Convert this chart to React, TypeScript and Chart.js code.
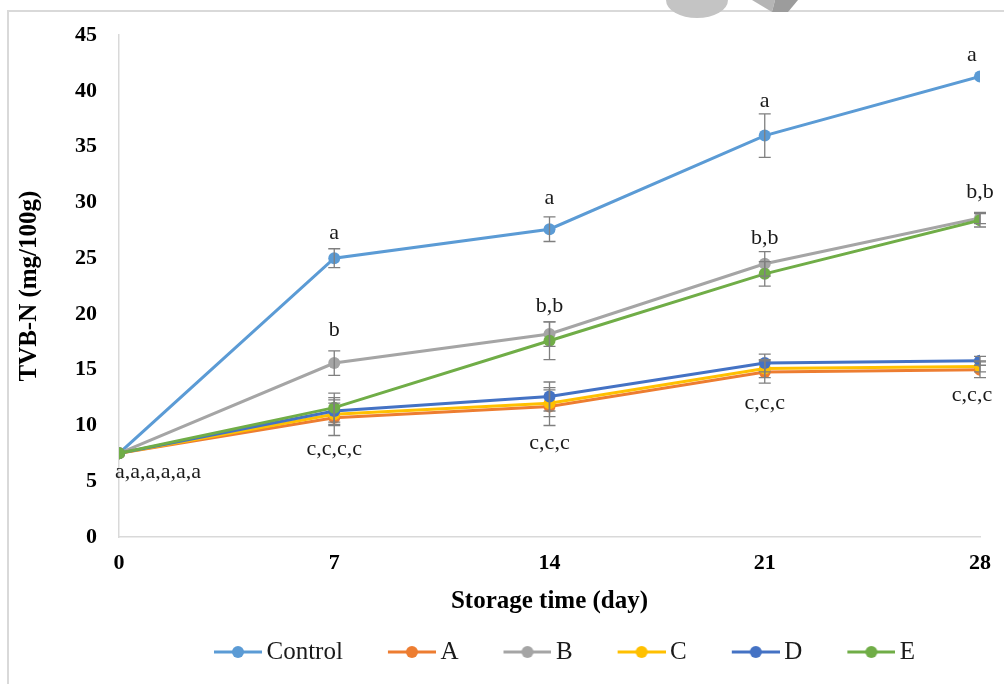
import React, { useEffect, useRef } from "react";
import { Chart, registerables } from "chart.js";

Chart.register(...registerables);

// ---------- data ----------
const DAYS = [0, 7, 14, 21, 28];
const SERIES_NAMES = ["Control", "A", "B", "C", "D", "E"];
const CONTROL = [7.5, 25.0, 27.6, 36.0, 41.3];
const TREAT_A = [7.5, 10.7, 11.7, 14.8, 15.0];
const TREAT_B = [7.5, 15.6, 18.2, 24.5, 28.6];
const TREAT_C = [7.5, 11.0, 12.0, 15.1, 15.3];
const TREAT_D = [7.5, 11.3, 12.6, 15.6, 15.8];
const TREAT_E = [7.5, 11.6, 17.6, 23.6, 28.4];

const ERR_CONTROL = [0, 0.85, 1.1, 1.95, 0];
const ERR_A = [0, 1.6, 1.7, 1.0, 0.7];
const ERR_B = [0, 1.1, 1.1, 1.1, 0.5];
const ERR_C = [0, 1.0, 1.2, 0.8, 0.5];
const ERR_D = [0, 1.2, 1.3, 0.8, 0.4];
const ERR_E = [0, 1.3, 1.7, 1.1, 0.6];

const X_TICKS = [0, 7, 14, 21, 28];
const Y_TICKS = [0, 5, 10, 15, 20, 25, 30, 35, 40, 45];

// significance letters: series index, day index, text
const LETTER_SERIES = [5, 0, 0, 0, 0, 2, 2, 2, 2, 1, 1, 1, 1];
const LETTER_DAY = [0, 1, 2, 3, 4, 1, 2, 3, 4, 1, 2, 3, 4];
const LETTER_TEXT = [
  "a,a,a,a,a,a",
  "a", "a", "a", "a",
  "b", "b,b", "b,b", "b,b",
  "c,c,c,c", "c,c,c", "c,c,c", "c,c,c",
];

// ---------- styles ----------
const COLORS = ["#5b9bd5", "#ed7d31", "#a5a5a5", "#ffc000", "#4472c4", "#70ad47"];
const DRAW_ORDER = [5, 4, 3, 2, 1, 0];
const LETTER_OFFSETS: [number, number][] = [
  [39, 19],
  [0, -25], [0, -31], [0, -34], [-8, -21],
  [0, -33], [0, -28], [0, -26], [0, -26],
  [0, 32], [0, 37], [0, 31], [-8, 25],
];
const FONT = "'Liberation Serif', 'Times New Roman', serif";

const SERIES_VALUES = [CONTROL, TREAT_A, TREAT_B, TREAT_C, TREAT_D, TREAT_E];
const SERIES_ERRORS = [ERR_CONTROL, ERR_A, ERR_B, ERR_C, ERR_D, ERR_E];

function makeLegendImage(color: string) {
  const c = document.createElement("canvas");
  c.width = 56;
  c.height = 14;
  const g = c.getContext("2d")!;
  g.strokeStyle = color;
  g.lineWidth = 3;
  g.beginPath();
  g.moveTo(8, 7);
  g.lineTo(56, 7);
  g.stroke();
  g.fillStyle = color;
  g.beginPath();
  g.arc(32, 7, 6, 0, Math.PI * 2);
  g.fill();
  return c;
}

const framePlugin = {
  id: "frame",
  beforeDraw(chart: any) {
    const ctx = chart.ctx;
    ctx.save();
    ctx.fillStyle = "#ffffff";
    ctx.fillRect(0, 0, chart.width, chart.height);
    ctx.strokeStyle = "#d9d9d9";
    ctx.lineWidth = 2;
    ctx.beginPath();
    ctx.moveTo(8, chart.height);
    ctx.lineTo(8, 11);
    ctx.lineTo(chart.width, 11);
    ctx.stroke();
    ctx.restore();
  },
  afterDraw(chart: any) {
    const ctx = chart.ctx;
    ctx.save();
    ctx.fillStyle = "#c4c4c4";
    ctx.beginPath();
    ctx.ellipse(697, 0, 31, 18, 0, 0, Math.PI);
    ctx.fill();
    ctx.fillStyle = "#b5b5b5";
    ctx.beginPath();
    ctx.moveTo(752, 0);
    ctx.lineTo(775, 0);
    ctx.lineTo(772, 12);
    ctx.closePath();
    ctx.fill();
    ctx.fillStyle = "#9c9c9c";
    ctx.beginPath();
    ctx.moveTo(775, 0);
    ctx.lineTo(798, 0);
    ctx.lineTo(788, 12);
    ctx.lineTo(772, 12);
    ctx.closePath();
    ctx.fill();
    ctx.restore();
  },
};

const errorBarPlugin = {
  id: "errorBars",
  afterDatasetsDraw(chart: any) {
    const ctx = chart.ctx;
    const xs = chart.scales.x;
    const ys = chart.scales.y;
    ctx.save();
    ctx.strokeStyle = "#7f7f7f";
    ctx.lineWidth = 1.3;
    SERIES_VALUES.forEach((vals, si) => {
      const errs = SERIES_ERRORS[si];
      vals.forEach((v, j) => {
        const e = errs[j];
        if (!e) return;
        const x = xs.getPixelForValue(DAYS[j]);
        const yTop = ys.getPixelForValue(v + e);
        const yBot = ys.getPixelForValue(v - e);
        ctx.beginPath();
        ctx.moveTo(x, yTop);
        ctx.lineTo(x, yBot);
        ctx.moveTo(x - 6, yTop);
        ctx.lineTo(x + 6, yTop);
        ctx.moveTo(x - 6, yBot);
        ctx.lineTo(x + 6, yBot);
        ctx.stroke();
      });
    });
    ctx.restore();
  },
};

const letterPlugin = {
  id: "letters",
  afterDatasetsDraw(chart: any) {
    const ctx = chart.ctx;
    const xs = chart.scales.x;
    const ys = chart.scales.y;
    ctx.save();
    ctx.font = `22px ${FONT}`;
    ctx.fillStyle = "#1a1a1a";
    ctx.textAlign = "center";
    ctx.textBaseline = "middle";
    LETTER_TEXT.forEach((t, i) => {
      const s = LETTER_SERIES[i];
      const d = LETTER_DAY[i];
      const x = xs.getPixelForValue(DAYS[d]);
      const y = ys.getPixelForValue(SERIES_VALUES[s][d]);
      const [dx, dy] = LETTER_OFFSETS[i];
      ctx.fillText(t, x + dx, y + dy);
    });
    ctx.restore();
  },
};

const legendPlacePlugin = {
  id: "legendPlace",
  afterLayout(chart: any) {
    const lg = chart.legend;
    if (!lg || !lg.lineWidths) return;
    const pad = lg.options.labels.padding;
    const lw = lg.lineWidths[0];
    const start = (lg.left + pad + lg.right - lw) / 2;
    const dx = 214 - start;
    lg.left += dx;
    lg.right += dx;
    const newTop = 652 - pad - 12.5;
    lg.bottom += newTop - lg.top;
    lg.top = newTop;
  },
};

export default function App() {
  const ref = useRef<HTMLCanvasElement | null>(null);

  useEffect(() => {
    if (!ref.current) return;
    const legendImages = COLORS.map((c) => makeLegendImage(c));
    const datasets = SERIES_NAMES.map((name, i) => ({
      label: name,
      data: DAYS.map((d, j) => ({ x: d, y: SERIES_VALUES[i][j] })),
      borderColor: COLORS[i],
      backgroundColor: COLORS[i],
      pointBackgroundColor: COLORS[i],
      pointBorderColor: COLORS[i],
      pointRadius: 6,
      pointBorderWidth: 0,
      borderWidth: 3,
      tension: 0,
      order: DRAW_ORDER[i],
    }));

    const chart = new Chart(ref.current, {
      type: "line",
      data: { datasets },
      plugins: [framePlugin, errorBarPlugin, letterPlugin, legendPlacePlugin],
      options: {
        responsive: false,
        animation: false,
        layout: { padding: { left: 15, right: 24, top: 35, bottom: 0 } },
        plugins: {
          tooltip: { enabled: false },
          legend: {
            position: "bottom",
            maxHeight: 67,
            labels: {
              usePointStyle: true,
              pointStyleWidth: 40,
              padding: 45,
              color: "#1a1a1a",
              font: { family: FONT, size: 25 },
              sort: (a: any, b: any) => a.datasetIndex - b.datasetIndex,
              generateLabels: (c: any) => {
                const items = (Chart.defaults.plugins.legend.labels as any).generateLabels(c);
                items.forEach((it: any) => {
                  it.pointStyle = legendImages[it.datasetIndex];
                });
                return items;
              },
            },
          },
        },
        scales: {
          x: {
            type: "linear",
            min: 0,
            max: 28,
            afterBuildTicks: (s: any) => {
              s.ticks = X_TICKS.map((v) => ({ value: v }));
            },
            afterFit: (s: any) => {
              s.height = 80;
            },
            grid: { display: false, drawTicks: false },
            border: { display: true, color: "#d9d9d9", width: 1.5 },
            ticks: {
              padding: 13,
              color: "#000000",
              font: { family: FONT, size: 22, weight: "bold" },
            },
            title: {
              display: true,
              text: "Storage time (day)",
              color: "#000000",
              padding: 0,
              font: { family: FONT, size: 25, weight: "bold" },
            },
          },
          y: {
            type: "linear",
            min: 0,
            max: 45,
            afterBuildTicks: (s: any) => {
              s.ticks = Y_TICKS.map((v) => ({ value: v }));
            },
            afterFit: (s: any) => {
              s.width = 104;
            },
            grid: { display: false, drawTicks: false },
            border: { display: true, color: "#d9d9d9", width: 1.5 },
            ticks: {
              padding: 22,
              color: "#000000",
              font: { family: FONT, size: 22, weight: "bold" },
            },
            title: {
              display: true,
              text: "TVB-N (mg/100g)",
              color: "#000000",
              padding: 0,
              font: { family: FONT, size: 25, weight: "bold" },
            },
          },
        },
      } as any,
    });
    return () => chart.destroy();
  }, []);

  return (
    <div style={{ position: "absolute", left: 0, top: 0, width: 1004, height: 684, background: "#fff" }}>
      <canvas ref={ref} width={1004} height={684} style={{ display: "block" }} />
    </div>
  );
}
